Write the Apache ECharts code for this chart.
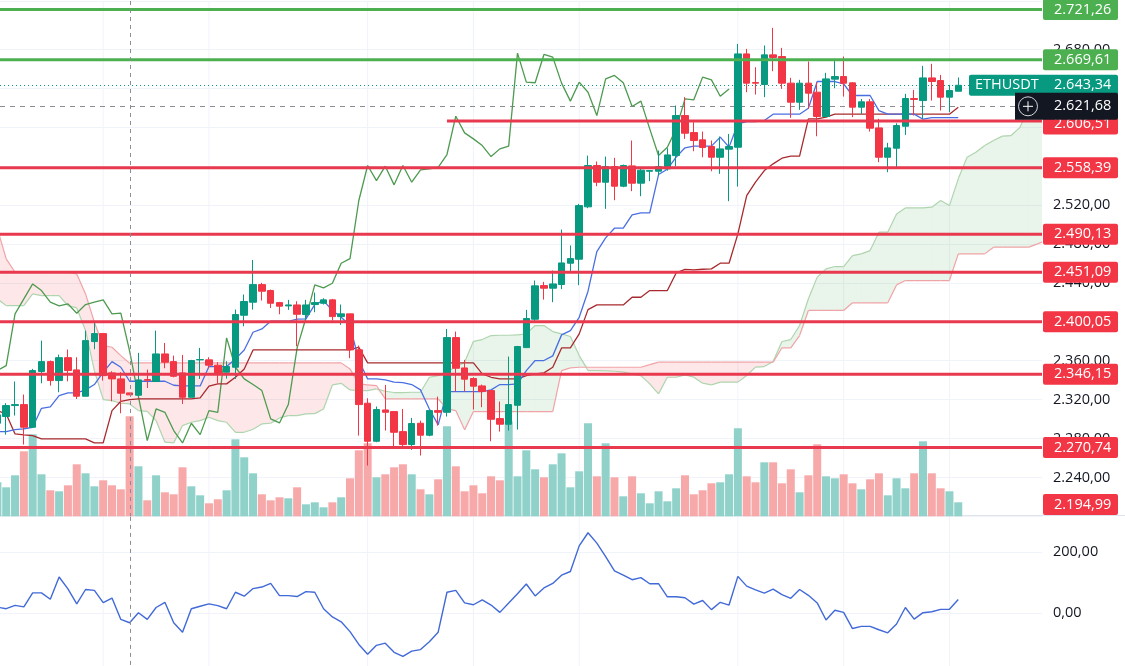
<!DOCTYPE html>
<html><head><meta charset="utf-8">
<style>html,body{margin:0;padding:0;background:#fff}#c{width:1125px;height:666px}</style>
<script src="https://cdn.jsdelivr.net/npm/echarts@6/dist/echarts.min.js"></script>
</head><body><div id="c"></div>
<script>
const SLOTS = 119;
const opens = [2295.7,2302.6,2313.9,2314.9,2291.6,2348.9,2359.1,2339.6,2363.2,2350.6,
2323.5,2379.7,2387.9,2347.5,2341.3,2326.9,2324.5,2340.6,2338.6,2367.0,
2359.1,2347.5,2322.4,2360.9,2360.9,2355.4,2348.2,2353.3,2406.8,2420.2,
2438.3,2432.2,2419.8,2416.4,2417.4,2407.5,2417.8,2419.1,2422.6,2405.4,
2408.2,2371.2,2316.3,2277.2,2309.4,2307.7,2287.1,2273.8,2295.7,2283.4,
2308.7,2307.0,2383.8,2352.6,2341.7,2334.1,2329.3,2300.5,2294.7,2314.2,
2373.5,2402.7,2437.3,2434.6,2438.4,2460.3,2464.4,2518.3,2560.8,2543.6,
2559.7,2539.5,2560.4,2542.6,2554.9,2554.9,2557.3,2571.0,2612.2,2594.7,
2587.2,2580.3,2569.3,2577.6,2579.6,2675.6,2646.1,2644.1,2674.6,2672.9,
2645.5,2625.9,2645.5,2636.2,2611.2,2649.6,2652.3,2645.8,2620.8,2626.3,
2599.5,2569.3,2578.6,2601.2,2629.7,2627.6,2650.9,2648.2,2631.1,2637.2];
const closes = [2304.3,2313.9,2314.9,2291.6,2349.9,2359.1,2339.6,2363.2,2349.9,2323.5,
2380.7,2387.9,2344.7,2341.3,2326.6,2324.9,2340.3,2339.9,2367.0,2358.5,
2344.0,2322.4,2360.2,2361.2,2355.4,2347.5,2354.0,2407.5,2420.9,2438.3,
2431.5,2419.1,2416.1,2417.4,2407.8,2417.4,2419.8,2422.6,2405.4,2408.2,
2371.2,2314.9,2277.2,2309.8,2307.0,2286.4,2273.8,2295.4,2283.4,2308.7,
2307.0,2383.8,2352.3,2341.0,2333.8,2328.3,2299.8,2294.7,2314.9,2374.6,
2403.4,2437.0,2434.6,2439.0,2460.6,2465.1,2519.6,2560.8,2543.6,2559.7,
2539.5,2560.8,2542.6,2556.0,2555.6,2559.7,2571.7,2612.2,2594.0,2586.5,
2579.3,2569.3,2577.9,2580.3,2675.6,2645.5,2645.5,2674.6,2671.9,2645.5,
2625.9,2645.5,2635.2,2611.2,2649.9,2652.3,2645.5,2620.8,2626.3,2599.2,
2569.3,2578.9,2601.9,2629.7,2628.7,2650.9,2647.2,2631.1,2637.9,2643.3];
const highs = [2308.7,2316.3,2338.6,2325.2,2351.6,2380.7,2360.2,2366.3,2371.5,2363.6,
2391.0,2399.6,2388.6,2349.2,2348.2,2326.9,2368.1,2350.9,2391.0,2378.3,
2365.3,2366.0,2360.9,2373.2,2363.6,2358.5,2359.5,2412.6,2428.1,2463.7,
2440.1,2433.2,2420.5,2422.6,2421.2,2422.6,2430.1,2424.3,2423.6,2417.8,
2408.2,2375.6,2321.4,2312.9,2335.1,2307.7,2310.4,2301.2,2298.4,2308.7,
2323.1,2392.7,2390.0,2360.9,2343.0,2335.5,2329.3,2318.0,2364.3,2375.3,
2412.3,2442.5,2441.1,2452.8,2494.9,2478.5,2521.3,2571.0,2564.9,2570.0,
2568.7,2561.8,2586.5,2558.0,2555.6,2576.2,2578.6,2622.5,2631.1,2605.3,
2595.7,2586.5,2590.6,2593.3,2685.9,2680.8,2661.9,2684.2,2702.4,2681.8,
2651.0,2648.9,2667.8,2646.5,2656.1,2670.5,2672.9,2646.5,2629.3,2629.3,
2608.8,2584.1,2604.3,2634.5,2638.6,2663.3,2665.4,2654.0,2643.7,2651.3];
const lows = [2291.6,2284.0,2303.6,2273.8,2290.9,2336.8,2334.4,2327.6,2338.9,2320.7,
2323.5,2371.8,2339.6,2318.3,2306.0,2324.9,2324.5,2332.0,2338.6,2352.3,
2343.0,2315.6,2322.4,2341.3,2352.3,2336.8,2341.6,2341.3,2395.5,2412.6,
2421.9,2414.3,2407.8,2412.3,2374.9,2402.3,2409.9,2417.8,2401.3,2396.9,
2362.6,2283.0,2252.2,2276.2,2288.2,2271.0,2271.0,2268.3,2262.5,2282.3,
2293.3,2302.6,2328.3,2328.3,2309.8,2312.2,2277.2,2287.1,2288.2,2289.2,
2373.5,2399.6,2422.9,2420.2,2433.6,2452.1,2437.7,2516.9,2539.5,2516.2,
2525.1,2538.5,2534.4,2529.2,2544.7,2550.5,2555.6,2560.1,2588.2,2575.5,
2569.3,2554.9,2552.2,2524.1,2539.2,2636.2,2633.8,2631.1,2657.8,2639.6,
2609.8,2618.0,2619.1,2590.9,2610.5,2640.3,2631.7,2610.5,2613.9,2595.7,
2564.2,2553.9,2559.0,2592.3,2612.2,2608.8,2627.6,2617.3,2615.6,2637.2];
const volumes = [34,29,41,65,82,42,26,25,31,52,
43,30,36,31,27,100,50,16,41,24,
22,49,30,21,13,17,26,77,59,43,
22,16,19,18,29,12,14,9,14,19,
38,66,73,39,42,49,52,42,27,22,
37,90,50,25,31,23,40,36,95,40,
66,47,39,52,63,29,45,93,40,73,
39,20,40,23,13,25,15,28,41,22,
26,33,34,42,88,40,34,54,54,33,
47,24,41,72,40,38,42,33,27,37,
43,21,38,28,43,75,43,28,25,14];
const tenkan = [2287.1,2287.1,2289.2,2289.9,2291.6,2311.1,2312.5,2324.2,2326.9,2326.9,
2330,2335.5,2348.2,2359.1,2353.3,2338.9,2338.9,2338.9,2338.9,2338.9,
2334.8,2334.1,2334.1,2334.1,2354,2354,2354,2361.9,2371.1,2389.3,
2392.7,2400.6,2400.6,2400.6,2402.7,2403,2417.8,2421.9,2411.6,2404.7,
2396.2,2360.2,2341.3,2341.3,2340.3,2337.9,2337.5,2335.5,2330,2310.4,
2294,2328.3,2328.3,2328.3,2328.3,2328.3,2330,2335.5,2335.5,2336.2,
2349.9,2360.2,2360.2,2365,2386.6,2391,2404.7,2431.5,2472.3,2486.4,
2496.3,2496.3,2510,2512.1,2512.1,2551.5,2557,2569.4,2579,2580.7,
2580.7,2580.7,2590,2579.7,2603.7,2606,2606,2607,2613.6,2613.6,
2613.6,2613.6,2619.7,2647.2,2647.2,2647.2,2644.8,2632.8,2632.8,2632.8,
2617.3,2613.6,2613.6,2613.6,2613.6,2608.4,2610.1,2610.1,2610.1,2610.1];
const kijun = [2308.7,2305.3,2284.7,2283.7,2283,2279.6,2279.6,2279.6,2279.6,2279.6,
2279.6,2275.5,2275.5,2308.7,2318.3,2320,2320.7,2320.7,2320.7,2320.7,
2320.7,2320.7,2320.7,2321.8,2333.8,2336.2,2336.2,2343,2351.6,2371.1,
2371.1,2371.1,2371.1,2371.1,2371.1,2371.1,2371.1,2371.1,2371.1,2371.1,
2371.2,2373.9,2357.8,2357.8,2357.8,2357.8,2357.8,2357.8,2357.8,2357.8,
2357.8,2357.8,2357.8,2357.8,2357.8,2346.4,2343,2341.3,2341.3,2341.3,
2344.7,2346.4,2347.5,2353.3,2373.2,2373.2,2387.6,2412.6,2417.4,2417.4,
2417.4,2417.4,2425.3,2425.3,2432.2,2432.2,2432.2,2450.3,2454,2453.5,
2454.1,2454.5,2460.3,2460.3,2490.5,2529.9,2543.6,2555.6,2562.5,2568.3,
2570.4,2570.4,2608.8,2608.8,2610.5,2613.6,2613.6,2613.6,2613.6,2613.6,
2613.6,2613.6,2613.6,2613.6,2613.6,2613.6,2613.6,2613.6,2613.6,2620.8];
const chikou = [2349.9,2355,2408.2,2423.6,2439,2432.2,2420.2,2416.4,2418.5,2408.9,
2417.8,2420.2,2422.6,2408.2,2408.9,2369.8,2323.1,2277.9,2310.4,2307,
2288.2,2275.5,2295.7,2284,2308.7,2307,2383.5,2353.3,2341.3,2335.5,
2329.3,2300.2,2296,2314.9,2373.2,2404,2438,2434.9,2439.7,2460.3,
2465,2524.8,2560.8,2545.3,2560.1,2540.9,2560.8,2543.6,2556.3,2557.3,
2559,2572.1,2611.5,2594.4,2588.2,2581.3,2570,2577.9,2580.7,2676.4,
2646.5,2645.9,2675,2672.3,2645.5,2627,2646.5,2636.2,2612.2,2650,
2653.4,2645.9,2621.5,2627,2598.5,2571.1,2579.6,2598.5,2629.4,2628.4,
2651.7,2648.9,2632.1,2639.6];
const spanA = [2423.6,2416.7,2416.7,2416.7,2428.7,2427,2427,2427,2416.7,2414.3,
2391,2349.9,2320,2319,2316.3,2315.6,2308.7,2308,2298.4,2276.2,
2275.5,2293.3,2296.7,2298.4,2301.9,2298.4,2296.7,2286.4,2286.4,2289.5,
2295,2295.7,2301.2,2303.6,2303.6,2305.3,2305.6,2310.4,2335.1,2336.8,
2330,2329.3,2329.3,2331,2328.6,2327.3,2327.3,2327.6,2327.6,2343,
2344.7,2349.2,2353.3,2358.5,2380,2381.8,2385.9,2386.2,2386.2,2386.6,
2387.6,2396.2,2396.2,2390,2387.6,2384.9,2365.3,2349.9,2349.9,2349.5,
2349.2,2348.2,2346.4,2344.7,2336.2,2325.9,2343,2343,2345.5,2343.1,
2336.9,2335.2,2338,2338,2338,2344.8,2353.4,2354,2359.2,2379.8,
2381.8,2396.2,2423.7,2446,2454.5,2456.9,2456.9,2468.2,2469.9,2473.3,
2492.2,2492.2,2511,2517.2,2517.2,2517.2,2517.9,2524.8,2519.6,2547.1,
2569.3,2574.5,2581.3,2586.5,2591,2591.6,2600,2620.8,2627.6,2631];
const spanB = [2495.6,2464.7,2451,2451,2451,2451,2451,2451,2451,2449.3,
2428.7,2399.6,2375.6,2373.9,2365.3,2357.4,2357.8,2357.8,2357.8,2357.8,
2357.8,2357.8,2357.8,2357.8,2357.8,2357.8,2357.8,2357.8,2357.8,2357.8,
2357.8,2357.8,2357.8,2357.8,2357.8,2357.8,2357.8,2357.8,2357.8,2357.8,
2351.6,2336.2,2335.1,2334.5,2320.7,2320.7,2320.7,2320.7,2320.7,2320.7,
2320.7,2310.5,2308.7,2288.9,2307.7,2307.7,2307.7,2307.7,2307.7,2307.7,
2307.7,2307.7,2307.7,2307.7,2349.9,2352.6,2353.3,2353.3,2353.3,2353.3,
2353.3,2353.3,2353.3,2353.3,2356,2358.5,2358.5,2358.5,2358.5,2358.5,
2358.5,2358.5,2358.5,2358.5,2358.5,2358.5,2358.5,2358.5,2358.5,2373.3,
2373.3,2385.9,2411.7,2411.7,2411.7,2411.7,2411.7,2419.6,2419.6,2419.6,
2419.6,2419.6,2438,2442.5,2442.5,2442.5,2442.5,2442.5,2442.5,2469.9,
2469.9,2469.9,2469.9,2476.8,2476.8,2476.8,2476.8,2476.8,2480.2,2483.6];
const cci = [20,15,26,21,67,67,46,119,80,31,
78,75,35,50,-20,-31,2,-20,19,36,
-31,-62,15,23,31,25,15,69,56,81,
86,98,58,58,55,71,69,15,-12,-28,
-60,-102,-134,-105,-98,-128,-141,-124,-119,-93,
-62,69,75,34,28,44,27,3,34,64,
96,57,83,98,125,137,221,264,230,186,
139,125,110,117,97,97,54,54,51,30,
42,12,36,27,121,89,77,66,79,61,
49,78,59,34,-22,10,3,-50,-43,-43,
-54,-64,-35,19,-19,2,5,13,13,45];
const levelValues = [2721.26,2669.61,2606.51,2558.39,2490.13,2451.09,2400.05,2346.15,2270.74,2194.99];
const levelStarts = [0,0,51,0,0,0,0,0,0,0];
const levelKinds  = ['g','g','r','r','r','r','r','r','r','r'];
const levelNudges = [0,0,3,0,0,0,0,0,0,0];
const lastPrice = 2643.34, markPrice = 2621.68, symbol = 'ETHUSDT';
const timeTicks = [12,24,42,54,66,84,96,108];
const crossIdx = 15;

const FONT = '"Open Sans","Noto Sans",sans-serif';
const UP='#089981', DOWN='#f23645', GRID='#f0f3fa';
const fmt = v => {
  const neg = v < 0, s = Math.abs(v).toFixed(2).split('.');
  return (neg?'-':'') + s[0].replace(/\B(?=(\d{3})+$)/g,'.') + ',' + s[1];
};
const cats = Array.from({length:SLOTS},(_,i)=>String(i));
const candleData = opens.map((o,i)=>[o,closes[i],lows[i],highs[i]]);
const volData = volumes.map((v,i)=>({value:v,itemStyle:{color:closes[i]>=opens[i]?'#90d1ca':'#f7a8a9'}}));

function renderVert(params, api){
  const cs = params.coordSys, x = api.coord([api.value(0),0])[0];
  return {type:'line',shape:{x1:x,y1:cs.y,x2:x,y2:cs.y+cs.height},style:{stroke:GRID,lineWidth:1},silent:true};
}
function renderCross(params, api){
  const cs = params.coordSys, x = Math.round(api.coord([api.value(0),0])[0])+0.5;
  return {type:'line',shape:{x1:x,y1:cs.y,x2:x,y2:cs.y+cs.height},style:{stroke:'#8a8d96',lineWidth:1,lineDash:[4,4]},silent:true};
}
function renderCloud(params, api){
  const i = api.value(0), a0=api.value(1), b0=api.value(2), a1=api.value(3), b1=api.value(4);
  const p = (x,v)=>api.coord([x,v]);
  const kids = [];
  const GF='rgba(76,175,80,0.12)', RF='rgba(242,54,69,0.12)';
  const d0=a0-b0, d1=a1-b1;
  if (d0*d1 >= 0){
    kids.push({type:'polygon',shape:{points:[p(i,a0),p(i+1,a1),p(i+1,b1),p(i,b0)]},style:{fill:(d0+d1)>=0?GF:RF}});
  } else {
    const t = d0/(d0-d1), xc=i+t, vc=a0+(a1-a0)*t;
    kids.push({type:'polygon',shape:{points:[p(i,a0),p(xc,vc),p(i,b0)]},style:{fill:d0>0?GF:RF}});
    kids.push({type:'polygon',shape:{points:[p(xc,vc),p(i+1,a1),p(i+1,b1)]},style:{fill:d1>0?GF:RF}});
  }
  kids.push({type:'line',shape:{x1:p(i,a0)[0],y1:p(i,a0)[1],x2:p(i+1,a1)[0],y2:p(i+1,a1)[1]},style:{stroke:'#aed5ae',lineWidth:1.2}});
  kids.push({type:'line',shape:{x1:p(i,b0)[0],y1:p(i,b0)[1],x2:p(i+1,b1)[0],y2:p(i+1,b1)[1]},style:{stroke:'#f0a3a6',lineWidth:1.2}});
  return {type:'group',children:kids,silent:true};
}
function renderPriceLine(params, api){
  const cs=params.coordSys, idx=params.dataIndex, y=Math.round(api.coord([0,api.value(0)])[1])+0.5;
  const st = idx===0 ? {stroke:UP,lineWidth:1,lineDash:[1,3]} : {stroke:'#8a8d96',lineWidth:1,lineDash:[5,5]};
  return {type:'line',shape:{x1:0,y1:y,x2:cs.x+cs.width,y2:y},style:st,silent:true};
}
function tagText(x,y,text,weight){
  return {type:'text',x:x,y:y,style:{text:text,fill:'#fff',font:(weight||500)+' 14.5px '+FONT,textAlign:'left',textVerticalAlign:'middle'},silent:true};
}
function renderLevel(params, api){
  const cs=params.coordSys, i=params.dataIndex, v=levelValues[i];
  const right=cs.x+cs.width, y=api.coord([0,v])[1];
  const col = levelKinds[i]==='g' ? '#4caf50' : '#f23645';
  const lineCol = levelKinds[i]==='g' ? '#4caf50' : '#e8394e';
  const kids=[];
  if (y < cs.y+cs.height){
    const s=levelStarts[i], x0 = s ? api.coord([s,v])[0] : 0;
    kids.push({type:'rect',shape:{x:x0,y:y-1.5,width:right-x0,height:3},style:{fill:lineCol}});
  }
  const cy=Math.min(y+levelNudges[i],504.5);
  kids.push({type:'rect',shape:{x:right+1,y:cy-10.5,width:75,height:21,r:2},style:{fill:col}});
  kids.push(tagText(right+12,cy,fmt(v)));
  return {type:'group',children:kids,silent:true};
}
function renderLast(params, api){
  const cs=params.coordSys, right=cs.x+cs.width, y=api.coord([0,lastPrice])[1];
  const kids=[
    {type:'rect',shape:{x:right-73,y:y-10.5,width:74,height:21,r:[2,0,0,2]},style:{fill:UP}},
    {type:'rect',shape:{x:right+1,y:y-10.5,width:75,height:21,r:[0,2,2,0]},style:{fill:UP}},
    tagText(right-67,y,symbol,400),
    tagText(right+12,y,fmt(lastPrice))
  ];
  return {type:'group',children:kids,silent:true};
}
function renderMark(params, api){
  const cs=params.coordSys, right=cs.x+cs.width, y=api.coord([0,markPrice])[1];
  const kids=[
    {type:'rect',shape:{x:right-27,y:y-13.5,width:103,height:27,r:[0,2,2,0]},style:{fill:'#131722'}},
    {type:'circle',shape:{cx:right-14,cy:y,r:9.5},style:{fill:'none',stroke:'#d1d4dc',lineWidth:1}},
    {type:'line',shape:{x1:right-19,y1:y,x2:right-9,y2:y},style:{stroke:'#fff',lineWidth:1}},
    {type:'line',shape:{x1:right-14,y1:y-5,x2:right-14,y2:y+5},style:{stroke:'#fff',lineWidth:1}},
    tagText(right+12,y,fmt(markPrice))
  ];
  return {type:'group',children:kids,silent:true};
}
const lineS = (name,data,color,z)=>({name,type:'line',xAxisIndex:0,yAxisIndex:0,data,showSymbol:false,symbol:'none',
  lineStyle:{color,width:1.3},z,silent:true,clip:true,animation:false});

const axisLabelStyle = {color:'#131722',fontFamily:FONT,fontSize:14.5,align:'left',margin:11,formatter:v=>fmt(v),showMinLabel:false,showMaxLabel:false};
const option = {
  animation:false, backgroundColor:'#fff',
  grid:[{left:-7,top:1,width:1049,height:515.3,containLabel:false,outerBoundsMode:'none'},
        {left:-7,top:516.9,width:1049,height:157.4,containLabel:false,outerBoundsMode:'none'}],
  xAxis:[
    {type:'category',gridIndex:0,data:cats,show:false,boundaryGap:true},
    {type:'category',gridIndex:1,data:cats,show:false,boundaryGap:true}
  ],
  yAxis:[
    {type:'value',gridIndex:0,position:'right',min:2200,max:2730,interval:40,scale:true,
     axisLine:{show:false},axisTick:{show:false},axisLabel:axisLabelStyle,
     splitLine:{show:true,lineStyle:{color:GRID,width:1}}},
    {type:'value',gridIndex:0,min:0,max:515.3,show:false,splitLine:{show:false}},
    {type:'value',gridIndex:1,position:'right',min:-200,max:316,interval:200,
     axisLine:{show:false},axisTick:{show:false},axisLabel:axisLabelStyle,
     splitLine:{show:true,showMaxLine:false,showMinLine:false,lineStyle:{color:GRID,width:1}}}
  ],
  graphic:[{type:'line',shape:{x1:0,y1:515.5,x2:1125,y2:515.5},style:{stroke:'#e0e3eb',lineWidth:1},z:1}],
  series:[
    {type:'custom',xAxisIndex:0,yAxisIndex:0,data:timeTicks.map(t=>[t]),renderItem:renderVert,encode:{x:0},z:1,silent:true},
    {type:'custom',xAxisIndex:1,yAxisIndex:2,data:timeTicks.map(t=>[t]),renderItem:renderVert,encode:{x:0},z:1,silent:true},
    {type:'custom',xAxisIndex:0,yAxisIndex:0,clip:true,z:2,silent:true,
     data:spanA.slice(0,-1).map((a,i)=>[i,a,spanB[i],spanA[i+1],spanB[i+1]]),encode:{x:0,y:[1,2,3,4]},renderItem:renderCloud},
    {name:'Volume',type:'bar',xAxisIndex:0,yAxisIndex:1,data:volData,barWidth:8,z:3,silent:true},
    {type:'custom',xAxisIndex:0,yAxisIndex:0,data:[[lastPrice],[markPrice]],encode:{y:0},renderItem:renderPriceLine,z:4,silent:true},
    lineS('Chikou',chikou,'#4d9a50',5),
    lineS('Kijun',kijun,'#a82a2e',5),
    lineS('Tenkan',tenkan,'#4a6fe3',5),
    {name:'ETHUSDT',type:'candlestick',xAxisIndex:0,yAxisIndex:0,data:candleData,barWidth:7,z:6,silent:true,
     itemStyle:{color:UP,color0:DOWN,borderColor:UP,borderColor0:DOWN,borderWidth:1}},
    {type:'custom',xAxisIndex:0,yAxisIndex:0,data:levelValues.map(v=>[v]),encode:{y:0},renderItem:renderLevel,z:10,silent:true},
    {type:'custom',xAxisIndex:0,yAxisIndex:0,data:[[lastPrice]],encode:{y:0},renderItem:renderLast,z:11,silent:true},
    {type:'custom',xAxisIndex:0,yAxisIndex:0,data:[[markPrice]],encode:{y:0},renderItem:renderMark,z:12,silent:true},
    {type:'custom',xAxisIndex:0,yAxisIndex:0,data:[[crossIdx]],encode:{x:0},renderItem:renderCross,z:13,silent:true},
    {type:'custom',xAxisIndex:1,yAxisIndex:2,data:[[crossIdx]],encode:{x:0},renderItem:renderCross,z:13,silent:true},
    {name:'CCI',type:'line',xAxisIndex:1,yAxisIndex:2,data:cci,showSymbol:false,symbol:'none',lineStyle:{color:'#4169d8',width:1.4},z:5,silent:true,clip:false}
  ]
};
const chart = echarts.init(document.getElementById('c'),null,{renderer:'canvas'});
chart.setOption(option);
</script></body></html>
